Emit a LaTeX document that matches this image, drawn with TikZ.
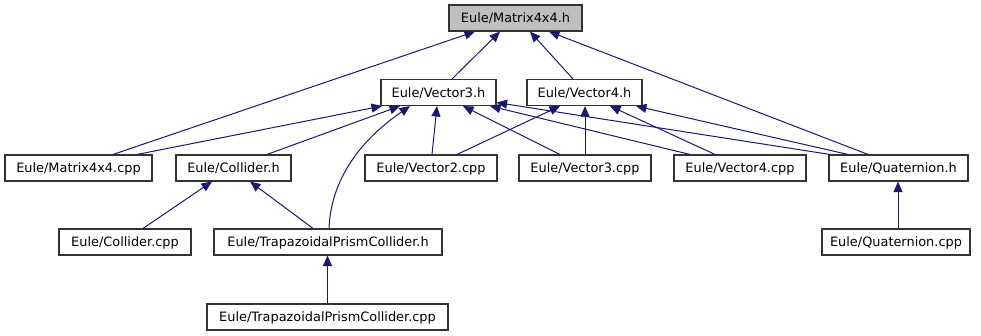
\documentclass[tikz,border=0pt]{standalone}
\usepackage{fontspec}
\setmainfont{DejaVu Sans}
\usetikzlibrary{arrows.meta}
\definecolor{depblue}{HTML}{191970}
\definecolor{boxgray}{HTML}{333333}
\definecolor{curfill}{HTML}{BFBFBF}
\begin{document}
\begin{tikzpicture}[x=1pt,y=-1pt,
  file/.style={draw=boxgray, fill=white, line width=1.1pt, minimum height=26pt,
    inner sep=0pt, text height=9.4pt, text depth=0pt,
    font=\fontsize{12.9}{15}\selectfont},
  current/.style={file, fill=curfill},
  dep/.style={draw=depblue, line width=1pt,
    -{Triangle[length=10.5pt,width=9pt]}}
]
\useasboundingbox (0,0) rectangle (981,336);

% header files and sources
\node[current, minimum width=133pt] (m4h)     at (515.5,18)  {Eule/Matrix4x4.h};
\node[file, minimum width=115pt]    (v3h)     at (438.5,92.5) {Eule/Vector3.h};
\node[file, minimum width=115pt]    (v4h)     at (584.5,92.5) {Eule/Vector4.h};
\node[file, minimum width=147pt]    (m4cpp)   at (78.5,168)  {Eule/Matrix4x4.cpp};
\node[file, minimum width=115pt]    (colh)    at (233.5,168) {Eule/Collider.h};
\node[file, minimum width=132pt]    (v2cpp)   at (431,168)   {Eule/Vector2.cpp};
\node[file, minimum width=132pt]    (v3cpp)   at (585,168)   {Eule/Vector3.cpp};
\node[file, minimum width=132pt]    (v4cpp)   at (740,168)   {Eule/Vector4.cpp};
\node[file, minimum width=139pt]    (quath)   at (898.5,168) {Eule/Quaternion.h};
\node[file, minimum width=132pt]    (colcpp)  at (125,242)   {Eule/Collider.cpp};
\node[file, minimum width=228pt]    (tpch)    at (328,242)   {Eule/TrapazoidalPrismCollider.h};
\node[file, minimum width=148pt]    (quatcpp) at (896,242)   {Eule/Quaternion.cpp};
\node[file, minimum width=241pt]    (tpccpp)  at (327.5,317) {Eule/TrapazoidalPrismCollider.cpp};

% includes of Matrix4x4.h
\draw[dep] ([xshift=13.5pt]v3h.north)    -- ([xshift=-15.5pt]m4h.south);
\draw[dep] ([xshift=-11.5pt]v4h.north)   -- ([xshift=14.5pt]m4h.south);
\draw[dep] ([xshift=34.5pt]m4cpp.north)  -- ([xshift=-40.5pt]m4h.south);
\draw[dep] ([xshift=-30.5pt]quath.north) -- ([xshift=33.5pt]m4h.south);

% includes of Vector3.h
\draw[dep] ([xshift=58.5pt]m4cpp.north)  -- ([xshift=-56.5pt]v3h.south);
\draw[dep] ([xshift=33.5pt]colh.north)   -- ([xshift=-38.5pt]v3h.south);
\draw[dep] ([xshift=1pt]tpch.north) .. controls +(2,-49) and +(-50,34.5) .. ([xshift=-28.5pt]v3h.south);
\draw[dep] ([xshift=1pt]v2cpp.north)     -- ([xshift=-1.5pt]v3h.south);
\draw[dep] ([xshift=-25pt]v3cpp.north)   -- ([xshift=24.5pt]v3h.south);
\draw[dep] ([xshift=-50pt]v4cpp.north)   -- ([xshift=51.5pt]v3h.south);
\draw[dep] ([xshift=-68.5pt]quath.north) -- ([yshift=3.5pt]v3h.south east);

% includes of Vector4.h
\draw[dep] ([xshift=26pt]v2cpp.north)    -- ([xshift=-24.5pt]v4h.south);
\draw[dep] (v3cpp.north)                 -- (v3cpp.north |- v4h.south);
\draw[dep] ([xshift=-25pt]v4cpp.north)   -- ([xshift=25.5pt]v4h.south);
\draw[dep] ([xshift=-50.5pt]quath.north) -- ([xshift=51.5pt]v4h.south);

% remaining includes
\draw[dep] ([xshift=18pt]colcpp.north)   -- ([xshift=-21.5pt]colh.south);
\draw[dep] ([xshift=-15pt]tpch.north)    -- ([xshift=16.5pt]colh.south);
\draw[dep] (tpccpp.north)                -- (tpccpp.north |- tpch.south);
\draw[dep] ([xshift=2pt]quatcpp.north)   -- ([xshift=2pt]quatcpp.north |- quath.south);
\end{tikzpicture}
\end{document}
